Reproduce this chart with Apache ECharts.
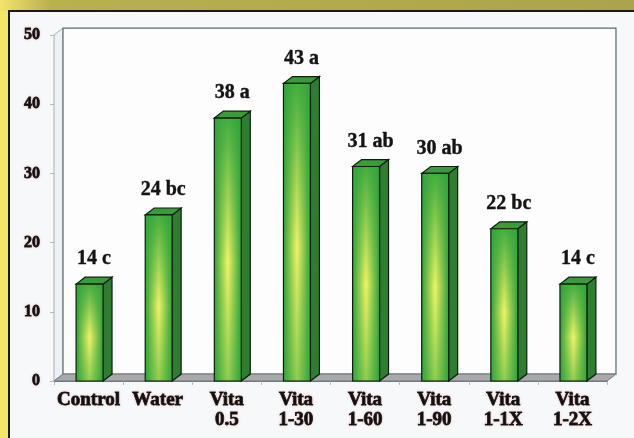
<!DOCTYPE html>
<html><head><meta charset="utf-8">
<script src="https://cdn.jsdelivr.net/npm/echarts@6/dist/echarts.min.js"></script>
<style>html,body{margin:0;padding:0;background:#f7f8fa}#c{width:634px;height:438px}</style>
</head><body><div id="c"></div>
<script>
const categories = ['Control','Water','Vita\n0.5','Vita\n1-30','Vita\n1-60','Vita\n1-90','Vita\n1-1X','Vita\n1-2X'];
const values = [14, 24, 38, 43, 31, 30, 22, 14];
const letters = ['c','bc','a','a','ab','ab','bc','c'];
const yMin = 0, yMax = 50, yStep = 10;

const chart = echarts.init(document.getElementById('c'));
const SERIF = '"Liberation Serif","Times New Roman",serif';

function depth(api){ const band = api.size([1,0])[0]; return {dx: band*0.13, dy: band*0.10, band: band}; }

const frameItem = function(params, api){
  const d = depth(api);
  const n = categories.length;
  const l = api.coord([0, yMin])[0] - d.band/2;
  const r = api.coord([n-1, yMin])[0] + d.band/2;
  const b = api.coord([0, yMin])[1];
  const t = api.coord([0, yMax])[1];
  const lineC = '#56686e';
  return {type:'group', children:[
    {type:'polygon', shape:{points:[[l,b],[l+d.dx,b-d.dy],[l+d.dx,t-d.dy],[l,t]]}, style:{fill:'#eef1f4', stroke:'#9fb2ba', lineWidth:1}},
    {type:'rect', shape:{x:l+d.dx, y:t-d.dy, width:r-l, height:b-t}, style:{fill:'#fdfdfe', stroke:lineC, lineWidth:1.2}},
    {type:'polygon', shape:{points:[[l,b],[l+d.dx,b-d.dy],[r+d.dx,b-d.dy],[r,b]]}, style:{fill:'#a9a9a9', stroke:'#6f7a7e', lineWidth:1}}
  ]};
};

const barItem = function(params, api){
  const d = depth(api);
  const x = api.value(0), v = api.value(1);
  const base = api.coord([x, 0]), top = api.coord([x, v]);
  const w = d.band*0.39;
  const x0 = base[0] - w/2 + 1, x1 = x0 + w;
  const yt = top[1], yb = base[1];
  const h = yb - yt;
  return {type:'group', children:[
    {type:'polygon', shape:{points:[[x1,yt],[x1+d.dx,yt-d.dy],[x1+d.dx,yb-d.dy],[x1,yb]]}, style:{fill:'#2f7d30', stroke:'#0d1f0d', lineWidth:1.2}},
    {type:'polygon', shape:{points:[[x0,yt],[x0+d.dx,yt-d.dy],[x1+d.dx,yt-d.dy],[x1,yt]]}, style:{fill:'#3c9a3c', stroke:'#0d1f0d', lineWidth:1.2}},
    {type:'rect', shape:{x:x0, y:yt, width:w, height:h}, style:{fill:new echarts.graphic.LinearGradient(0,0,1,0,[
      {offset:0, color:'#2fa239'},{offset:0.5, color:'#f0f466'},{offset:1, color:'#2fa239'}])}},
    {type:'rect', shape:{x:x0, y:yt, width:w, height:h}, style:{fill:new echarts.graphic.LinearGradient(0,0,0,1,[
      {offset:0, color:'rgba(50,165,60,0.9)'},{offset:0.55, color:'rgba(50,165,60,0)'},{offset:1, color:'rgba(50,165,60,0.5)'}]), stroke:'#0d1f0d', lineWidth:1.2}},
    {type:'text', style:{text: values[params.dataIndex] + ' ' + letters[params.dataIndex], x: x0 + (w + d.dx)/2, y: yt - 25,
      align:'center', verticalAlign:'middle', font:'bold 20px ' + SERIF, fill:'#141414',
      stroke:'#141414', lineWidth:0.4, shadowColor:'rgba(235,140,140,0.35)', shadowBlur:3}}
  ]};
};

chart.setOption({
  animation:false,
  backgroundColor:'#f7f8fa',
  graphic:[
    {type:'rect', left:0, top:0, z:-10, shape:{width:10, height:438}, style:{fill:'#f4e766'}},
    {type:'rect', left:0, top:0, z:-10, shape:{width:634, height:11}, style:{fill:new echarts.graphic.LinearGradient(0,0,1,0,[
      {offset:0, color:'#f3e46a'},{offset:0.08, color:'#b9b04e'},{offset:1, color:'#aca44a'}])}},
    {type:'rect', left:8, top:10, z:-9, shape:{width:2, height:428}, style:{fill:'#1a1a10'}},
    {type:'rect', left:8, top:10, z:-9, shape:{width:626, height:2}, style:{fill:'#1a1a10'}}
  ],
  grid:{left:54, right:27, top:35, bottom:57},
  xAxis:{type:'category', data:categories, boundaryGap:true,
    axisLine:{show:true, lineStyle:{color:'#6f7a7e', width:1}},
    axisTick:{show:true, length:4, lineStyle:{color:'#a8bcc4'}},
    axisLabel:{interval:0, margin:9, color:'#111', fontFamily:SERIF, fontWeight:'bold', fontSize:19, lineHeight:20,
      textBorderColor:'#111', textBorderWidth:0.8, textShadowColor:'rgba(235,140,140,0.35)', textShadowBlur:3}},
  yAxis:{type:'value', min:yMin, max:yMax, interval:yStep,
    splitLine:{show:false},
    axisLine:{show:false},
    axisTick:{show:true, length:4, lineStyle:{color:'#a8bcc4'}},
    axisLabel:{margin:14, color:'#111', fontFamily:SERIF, fontWeight:'bold', fontSize:16,
      textBorderColor:'#111', textBorderWidth:0.8, textShadowColor:'rgba(235,140,140,0.35)', textShadowBlur:3}},
  series:[
    {type:'custom', z:1, renderItem:frameItem, data:[[0]], silent:true},
    {type:'custom', z:2, renderItem:barItem, data:values.map((v,i)=>[i,v])}
  ]
});
</script></body></html>
